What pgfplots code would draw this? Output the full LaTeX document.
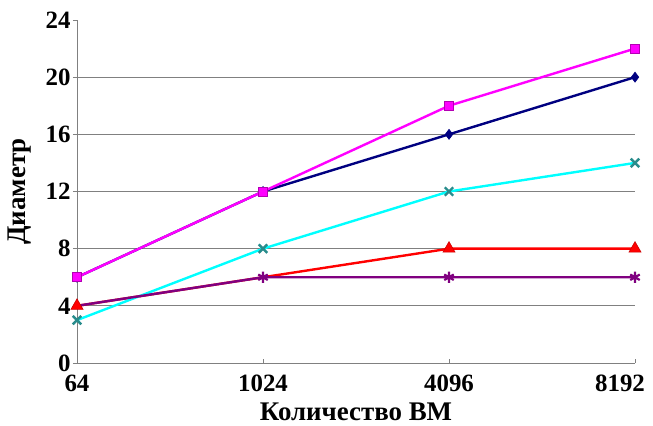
\documentclass[border=0pt]{standalone}
\usepackage{fontspec}
\setmainfont{Liberation Serif}
\newfontface\tickbf{Liberation Serif Bold}
\newcommand\tl[1]{\mbox{\fontsize{25}{29}\tickbf #1}}
\usepackage{pgfplots}
\pgfplotsset{compat=1.18}
\definecolor{sNavy}{RGB}{0,0,128}
\definecolor{sMag}{RGB}{255,0,255}
\definecolor{sCyan}{RGB}{0,255,255}
\definecolor{sTeal}{RGB}{40,140,140}
\definecolor{sRed}{RGB}{255,0,0}
\definecolor{sPurple}{RGB}{128,0,128}
\definecolor{gridgray}{RGB}{128,128,128}
\begin{document}
\begin{tikzpicture}
\begin{axis}[
  at={(0,0)}, anchor=south west,
  scale only axis, width=558bp, height=343bp,
  xmin=0, xmax=3, ymin=0, ymax=24,
  clip=false,
  axis x line*=bottom, axis y line*=left,
  axis line style={gridgray, line width=0.8bp},
  xtick={0,1,2,3},
  xticklabels={\tl{64},\tl{1024},\tl{4096},\tl{8192}\kern30bp},
  ytick={0,4,...,24},
  yticklabels={\tl{0},\tl{4},\tl{8},\tl{12},\tl{16},\tl{20},\tl{24}},
  extra y ticks={4,8,...,20}, extra y tick labels={},
  extra y tick style={grid=major, major tick length=0pt},
  major grid style={gridgray, line width=0.8bp},
  xtick align=inside, ytick align=outside,
  major tick length=4bp,
  tick style={gridgray, line width=0.8bp},
  ticklabel style={font=\fontsize{25}{29}\selectfont\bfseries},
  yticklabel style={xshift=1bp},
  xticklabel style={yshift=-8bp},
  label style={font=\fontsize{27}{32}\selectfont\bfseries},
  xlabel={Количество ВМ},
  xlabel style={inner sep=0pt, yshift=-8bp},
  ylabel={Диаметр},
  ylabel style={yshift=3bp},
  every axis plot/.append style={line width=2.4bp},
]
% series 1: navy diamonds
\addplot[sNavy, mark=diamond*, mark size=5bp, mark options={line width=0.6bp}] coordinates {(0,6) (1,12) (2,16) (3,20)};
% series 2: magenta squares
\addplot[sMag, mark=square*, mark size=4.5bp, mark options={draw=sPurple!60!sMag, line width=0.6bp}] coordinates {(0,6) (1,12) (2,18) (3,22)};
% series 3: red triangles
\addplot[sRed, mark=triangle*, mark size=7bp, mark indices={1,3,4}, mark options={draw=sRed!80!black, line width=0.6bp}] coordinates {(0,4) (1,6) (2,8) (3,8)};
% series 4: cyan with x marks
\addplot[sCyan, mark=x, mark size=6bp, mark options={sTeal, line width=2.4bp}] coordinates {(0,3) (1,8) (2,12) (3,14)};
% series 5: purple stars
\addplot[sPurple, mark=asterisk, mark size=5.5bp, mark indices={2,3,4}, mark options={line width=2.2bp}] coordinates {(0,4) (1,6) (2,6) (3,6)};
\end{axis}
\pgfresetboundingbox
\path (-77bp,-63bp) rectangle (576bp,363bp);
\end{tikzpicture}
\end{document}
